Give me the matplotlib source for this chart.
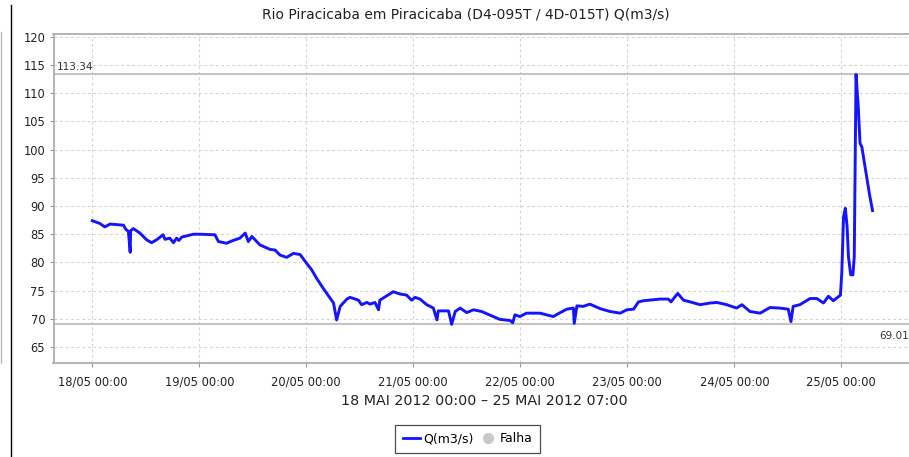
import matplotlib
matplotlib.use("Agg")
import matplotlib.pyplot as plt
from matplotlib.lines import Line2D
import numpy as np

# Flow series: hours since 18/05/2012 00:00 and discharge Q (m3/s)
hours = [0.0, 1.7, 2.8, 4.0, 7.0, 7.5, 8.1, 8.5, 8.6, 9.2, 10.7, 12.2, 13.3, 14.4,
         15.9, 16.3, 17.4, 18.2, 18.9, 19.4, 20.1, 22.7, 24.2, 27.5, 28.3, 30.1,
         31.6, 33.1, 34.3, 35.0, 35.8, 37.6, 39.9, 41.0, 42.1, 43.6, 45.1, 46.6,
         48.4, 49.2, 50.3, 51.8, 52.6, 54.1, 54.8, 55.6, 57.1, 57.8, 58.6, 59.7,
         60.4, 61.6, 62.3, 63.4, 64.2, 64.5, 65.7, 67.5, 69.0, 70.5, 71.6, 72.4,
         73.5, 75.0, 76.5, 77.3, 77.6, 79.9, 80.6, 81.4, 82.5, 84.0, 85.5, 87.3,
         89.9, 91.4, 93.7, 94.3, 94.8, 95.9, 97.4, 100.4, 103.4, 104.5, 106.4,
         107.9, 108.1, 108.7, 110.1, 111.6, 113.9, 116.1, 118.4, 119.9, 121.4,
         122.5, 123.6, 127.4, 129.2, 129.8, 131.3, 132.6, 134.1, 136.3, 138.6,
         140.1, 142.3, 144.5, 145.7, 147.5, 149.8, 152.0, 154.2, 156.1, 156.7,
         157.2, 158.7, 161.0, 162.5, 164.0, 165.1, 166.2, 167.8, 168.1, 168.5,
         168.9, 169.3, 169.6, 170.1, 170.6, 170.9, 171.3, 171.8, 172.2, 172.6,
         173.3, 173.8, 174.4, 175.0]
flow = [87.4, 86.9, 86.3, 86.8, 86.6, 85.9, 85.5, 81.8, 85.6, 86.0, 85.2, 84.0, 83.5, 84.0,
        84.9, 84.1, 84.3, 83.5, 84.3, 83.9, 84.5, 85.0, 85.0, 84.9, 83.7, 83.4,
        83.9, 84.3, 85.2, 83.7, 84.6, 83.1, 82.3, 82.2, 81.3, 80.9, 81.6, 81.4,
        79.5, 78.7, 77.2, 75.4, 74.5, 72.8, 69.8, 72.2, 73.5, 73.8, 73.6, 73.3,
        72.5, 72.9, 72.6, 72.9, 71.6, 73.3, 73.9, 74.8, 74.4, 74.2, 73.3, 73.8,
        73.5, 72.5, 71.9, 69.8, 71.4, 71.4, 69.01, 71.3, 71.9, 71.1, 71.6, 71.3,
        70.4, 69.9, 69.7, 69.3, 70.7, 70.4, 71.0, 71.0, 70.4, 70.9, 71.7,
        71.9, 69.2, 72.3, 72.2, 72.6, 71.8, 71.3, 71.0, 71.6, 71.7,
        73.0, 73.2, 73.5, 73.5, 73.0, 74.5, 73.3, 73.0, 72.5, 72.8,
        72.9, 72.5, 71.9, 72.5, 71.3, 71.0, 72.0, 71.9, 71.7, 69.5,
        72.2, 72.5, 73.6, 73.6, 72.8, 74.0, 73.2, 74.2, 78.1, 88.1,
        89.6, 86.3, 81.0, 77.8, 77.8, 81.0, 113.34, 107.6, 101.1, 100.5,
        97.0, 94.6, 91.7, 89.2]

day_ticks = [0, 24, 48, 72, 96, 120, 144, 168]
day_labels = ["18/05 00:00", "19/05 00:00", "20/05 00:00", "21/05 00:00",
              "22/05 00:00", "23/05 00:00", "24/05 00:00", "25/05 00:00"]
y_ticks = [65, 70, 75, 80, 85, 90, 95, 100, 105, 110, 115, 120]

q_max = max(flow)
q_min = min(flow)

plt.rcParams['font.family'] = ['DejaVu Sans']

W, H = 909, 457
fig = plt.figure(figsize=(W / 100, H / 100), dpi=100)
fig.patch.set_facecolor('white')

left, right, top, bottom = 53.5, 914, 33.5, 363
ax = fig.add_axes([left / W, 1 - bottom / H, (right - left) / W, (bottom - top) / H])
ax.set_facecolor('white')

ax.set_xlim(-8.7, 184.3)
ax.set_ylim(62.16, 120.6)

# grid
ax.set_xticks(day_ticks)
ax.set_xticklabels(day_labels)
ax.set_yticks(y_ticks)
ax.set_yticklabels([str(v) for v in y_ticks])
ax.grid(True, color='#d4d4d4', linestyle=(0, (2.5, 2.5)), linewidth=0.8)
ax.set_axisbelow(True)

# max / min marker lines
ax.axhline(q_max, color='#c4c4c4', linewidth=1.5, zorder=1)
ax.axhline(q_min, color='#c4c4c4', linewidth=1.5, zorder=1)
ax.text(-8.0, q_max + 0.5, f"{q_max:.2f}", fontsize=7.5, color='#333333',
        ha='left', va='bottom')
ax.text(183.2, q_min - 1.1, f"{q_min:.2f}", fontsize=7.5, color='#333333',
        ha='right', va='top')

ax.plot(hours, flow, color='#1414ff', linewidth=2.1, zorder=3, solid_joinstyle='round')

for s in ['right']:
    ax.spines[s].set_visible(False)
for s in ['left', 'bottom', 'top']:
    ax.spines[s].set_color('#a8a8a8')
    ax.spines[s].set_linewidth(1.2)

ax.tick_params(axis='both', colors='#999999', labelcolor='#222222', labelsize=8.3,
               length=3, width=0.8, direction='out', pad=3)
ax.tick_params(axis='x', pad=6)

fig.text(466 / W, 1 - 15 / H, "Rio Piracicaba em Piracicaba (D4-095T / 4D-015T) Q(m3/s)",
         fontsize=10, color='#222222', ha='center', va='center')
fig.text(484 / W, 1 - 401 / H, "18 MAI 2012 00:00 \u2013 25 MAI 2012 07:00",
         fontsize=10.3, color='#222222', ha='center', va='center')

# legend
handles = [Line2D([], [], color='#1414ff', linewidth=2.0),
           Line2D([], [], color='#c8c8c8', marker='o', linestyle='None', markersize=7)]
leg = fig.legend(handles, ["Q(m3/s)", "Falha"], loc='upper center',
                 bbox_to_anchor=(467.5 / W, 1 - 425 / H), ncol=2, frameon=True,
                 fontsize=9, handlelength=1.4, handletextpad=0.2, columnspacing=0.5,
                 borderpad=0.6, fancybox=False, borderaxespad=0)
leg.get_frame().set_edgecolor('#222222')
leg.get_frame().set_linewidth(0.9)

# page frame lines at the left edge
fig.add_artist(Line2D([10.7 / W, 10.7 / W], [0, 1 - 5 / H], transform=fig.transFigure,
                      color='black', linewidth=1.0))
fig.add_artist(Line2D([1.2 / W, 1.2 / W], [1 - 363 / H, 1 - 32 / H], transform=fig.transFigure,
                      color='#bbbbbb', linewidth=1.0))

fig.savefig("out.png", dpi=100, facecolor='white')
